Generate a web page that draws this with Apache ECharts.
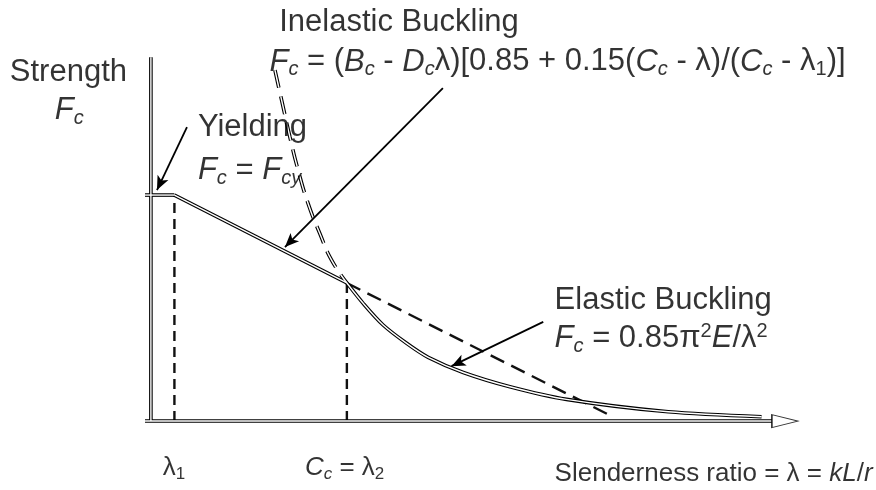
<!DOCTYPE html>
<html>
<head>
<meta charset="utf-8">
<script src="https://cdn.jsdelivr.net/npm/echarts@6/dist/echarts.min.js"></script>
<style>
html, body { margin: 0; padding: 0; background: #fff; }
#chart { width: 876px; height: 490px; }
</style>
</head>
<body>
<div id="chart"></div>
<script>
// lambda (slenderness) and Fc in drawing units: Fcy = 1, Cc = 100
var yieldLine = [[-3, 1.0], [12, 1.0]];
var inelasticLine = [[12, 1.0], [100, 0.611]];
var inelasticExt = [[100, 0.611], [235, 0.022]];
var elasticLine = [[100, 0.611], [108.3, 0.521], [118.5, 0.425], [130.5, 0.344], [141.5, 0.282],
    [159.4, 0.215], [183.2, 0.152], [212.1, 0.096], [264, 0.041], [311.6, 0.019]];
var eulerExt = [[63.3, 1.553], [66.7, 1.42], [70.9, 1.258], [75.1, 1.111], [80.2, 0.963],
    [86.2, 0.83], [92.2, 0.712], [100, 0.611]];
var lambda1Drop = [[12, 0], [12, 1.0]];
var ccDrop = [[100, 0], [100, 0.611]];
var yAxisLine = [[0, 0], [0, 1.61]];
var xAxisLine = [[-3, 0], [317, 0]];
var xArrow = [[323.5, 0]];

// annotation texts (anchor = left / middle), big = slide-size text
var labels = [
    { at: [-72, 1.544], text: 'Strength', big: true },
    { at: [-49, 1.376], text: '{i|F}{s|c}', big: true },
    { at: [24, 1.30], text: 'Yielding', big: true },
    { at: [24, 1.11], text: '{i|F}{s|c} = {i|F}{s|cy}', big: true },
    { at: [65.5, 1.765], text: 'Inelastic Buckling', big: true },
    { at: [60.5, 1.589], text: '{i|F}{s|c} = ({i|B}{s|c} - {i|D}{s|c}λ)[0.85 + 0.15({i|C}{s|c} - λ)/({i|C}{s|c} - λ{n|1})]', big: true },
    { at: [206, 0.535], text: 'Elastic Buckling', big: true },
    { at: [206, 0.367], text: '{i|F}{s|c} = 0.85π{p|2}{i|E}/λ{p|2}', big: true },
    { at: [6.1, -0.205], text: 'λ{m|1}' },
    { at: [78.6, -0.205], text: '{j|C}{t|c} = λ{m|2}' },
    { at: [206, -0.235], text: 'Slenderness ratio = λ = {j|kL}/{j|r}' }
];

// pointer arrows [from, to]
var pointers = [
    [[18.4, 1.301], [3.1, 1.022]],
    [[149, 1.473], [68.4, 0.770]],
    [[200.2, 0.439], [153.4, 0.243]]
];

var FONT = 'Liberation Sans, Arial, sans-serif';
var BIG = 31;
var SMALL = 26;

function doubleLine(data, dash, smooth) {
    var t = dash || 'solid';
    return [
        { type: 'line', data: data, symbol: 'none', smooth: smooth || false, silent: true, z: 3,
          lineStyle: { color: '#000', width: 3.6, type: t } },
        { type: 'line', data: data, symbol: 'none', smooth: smooth || false, silent: true, z: 4,
          lineStyle: { color: '#fff', width: 1.4, type: t } }
    ];
}

function dashed(data, pattern) {
    return { type: 'line', data: data, symbol: 'none', silent: true, z: 2,
        lineStyle: { color: '#111', width: 2.4, type: pattern } };
}

var series = [];
series = series.concat(doubleLine(yAxisLine));
series = series.concat(doubleLine(xAxisLine));
series = series.concat(doubleLine(eulerExt, [18, 9], true));
series.push(dashed(inelasticExt, [15, 8]));
series.push(dashed(lambda1Drop, [10, 6]));
series.push(dashed(ccDrop, [10, 6]));
series = series.concat(doubleLine(yieldLine));
series = series.concat(doubleLine(inelasticLine));
series = series.concat(doubleLine(elasticLine, null, 0.3));

series.push({
    type: 'scatter', data: xArrow, symbol: 'triangle', symbolRotate: -90, symbolSize: [13, 26], silent: true, z: 5,
    itemStyle: { color: '#fff', borderColor: '#000', borderWidth: 1.2 }
});

series.push({
    type: 'line', data: [], silent: true, z: 6,
    markLine: {
        silent: true, animation: false,
        symbol: ['none', 'arrow'], symbolSize: [9, 14],
        label: { show: false },
        lineStyle: { color: '#000', width: 1.8, type: 'solid' },
        data: pointers.map(function (p) { return [{ coord: p[0] }, { coord: p[1] }]; })
    }
});

series.push({
    type: 'scatter', symbolSize: 0, silent: true, z: 10,
    data: labels.map(function (l) {
        return { value: l.at, label: { formatter: l.text, fontSize: l.big ? BIG : SMALL } };
    }),
    label: {
        show: true, position: [0, 0], align: 'left', verticalAlign: 'middle',
        color: '#000', fontFamily: FONT,
        rich: {
            // big text: italic, subscript, plain subscript, superscript
            i: { fontFamily: FONT, fontSize: BIG, fontStyle: 'italic', color: '#000' },
            s: { fontFamily: FONT, fontSize: 20, fontStyle: 'italic', color: '#000', padding: [16, 0, 0, 0] },
            n: { fontFamily: FONT, fontSize: 20, color: '#000', padding: [16, 0, 0, 0] },
            p: { fontFamily: FONT, fontSize: 20, color: '#000', padding: [0, 0, 14, 0] },
            // small (axis) text
            j: { fontFamily: FONT, fontSize: SMALL, fontStyle: 'italic', color: '#000' },
            t: { fontFamily: FONT, fontSize: 17, fontStyle: 'italic', color: '#000', padding: [14, 0, 0, 0] },
            m: { fontFamily: FONT, fontSize: 17, color: '#000', padding: [14, 0, 0, 0] }
        }
    }
});

var chart = echarts.init(document.getElementById('chart'));
chart.setOption({
    animation: false,
    backgroundColor: '#fff',
    grid: { left: 0, right: 0, top: 0, bottom: 0 },
    xAxis: { type: 'value', min: -77, max: 370, show: false },
    yAxis: { type: 'value', min: -0.305, max: 1.863, show: false },
    series: series
});
</script>
</body>
</html>
